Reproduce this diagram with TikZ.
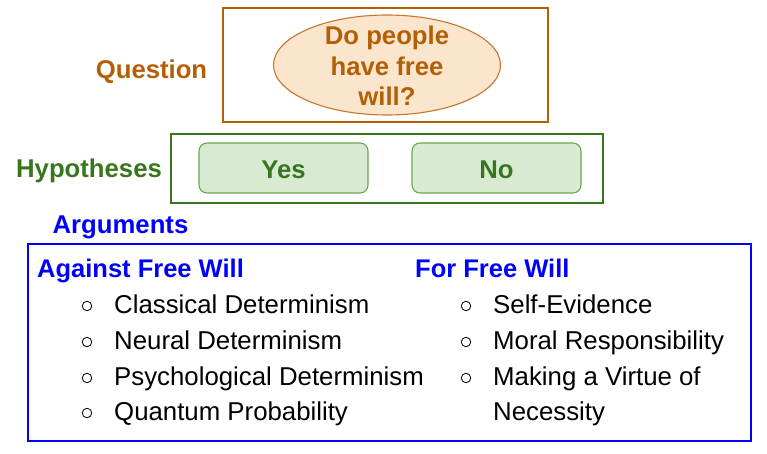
\documentclass[tikz,border=0pt]{standalone}
\usepackage{fontspec}
\setmainfont{Liberation Sans}
\usetikzlibrary{shapes.geometric}
\definecolor{qbrown}{HTML}{B45F06}
\definecolor{qfill}{HTML}{FCE5CD}
\definecolor{qedge}{HTML}{C4772A}
\definecolor{hgreen}{HTML}{38761D}
\definecolor{hfill}{HTML}{D9EAD3}
\definecolor{hedge}{HTML}{6AA84F}
\definecolor{ablue}{HTML}{0000FF}
\tikzset{
  lbl/.style={font=\fontsize{25.7}{30.5}\selectfont\bfseries,inner sep=0},
  frame/.style={draw,line width=1.6pt},
  hyp/.style={draw=hedge,fill=hfill,line width=1.1pt,rounded corners=8pt,minimum width=169pt,minimum height=50pt,text=hgreen,font=\fontsize{25.7}{30}\selectfont\bfseries},
  item/.style={anchor=base west,inner sep=0,font=\fontsize{25.8}{30}\selectfont},
  head/.style={anchor=base west,inner sep=0,text=ablue,font=\fontsize{25.5}{30}\selectfont\bfseries},
  bul/.style={circle,draw=black,line width=0.8pt,minimum size=9.5pt,inner sep=0}
}
\begin{document}
\begin{tikzpicture}[x=1pt,y=-1pt]
\useasboundingbox (0,0) rectangle (767,454);
% Question
\node[frame,draw=qbrown,minimum width=325pt,minimum height=114pt,inner sep=0] (qbox) at (385.5,65) {};
\node[ellipse,draw=qedge,fill=qfill,line width=1.1pt,minimum width=227pt,minimum height=100pt,inner sep=0] (qell) at (387,65) {};
\node[lbl,text=qbrown,align=center] (qtext) at (387,66) {Do people\\have free\\will?};
\node[lbl,text=qbrown] (qlabel) at (151.5,71.5) {Question};
% Hypotheses
\node[frame,draw=hgreen,minimum width=432pt,minimum height=69pt,inner sep=0] (hbox) at (387,168.5) {};
\node[hyp] (yes) at (283.5,168) {};
\node[hyp] (no) at (496.5,168) {};
\node[lbl,text=hgreen] (yest) at (283.5,169.5) {Yes};
\node[lbl,text=hgreen] (not) at (496.5,169.5) {No};
\node[lbl,text=hgreen] (hlabel) at (89,170.5) {Hypotheses};
% Arguments
\node[lbl,text=ablue] (alabel) at (120.5,227) {Arguments};
\node[frame,draw=ablue,minimum width=723pt,minimum height=197pt,inner sep=0] (abox) at (389.5,342.5) {};
\node[head] (against) at (37,277) {Against Free Will};
\node[head] (for) at (415,277) {For Free Will};
\node[bul] (b1) at (87,306) {};
\node[bul] (b2) at (87,342) {};
\node[bul] (b3) at (87,378) {};
\node[bul] (b4) at (87,413) {};
\node[item] (i1) at (114,313) {Classical Determinism};
\node[item] (i2) at (114,349) {Neural Determinism};
\node[item] (i3) at (114,385) {Psychological Determinism};
\node[item] (i4) at (114,420) {Quantum Probability};
\node[bul] (c1) at (466,306) {};
\node[bul] (c2) at (466,342) {};
\node[bul] (c3) at (466,378) {};
\node[item] (j1) at (493,313) {Self-Evidence};
\node[item] (j2) at (493,349) {Moral Responsibility};
\node[item] (j3) at (493,385) {Making a Virtue of};
\node[item] (j4) at (493,420) {Necessity};
\end{tikzpicture}
\end{document}
